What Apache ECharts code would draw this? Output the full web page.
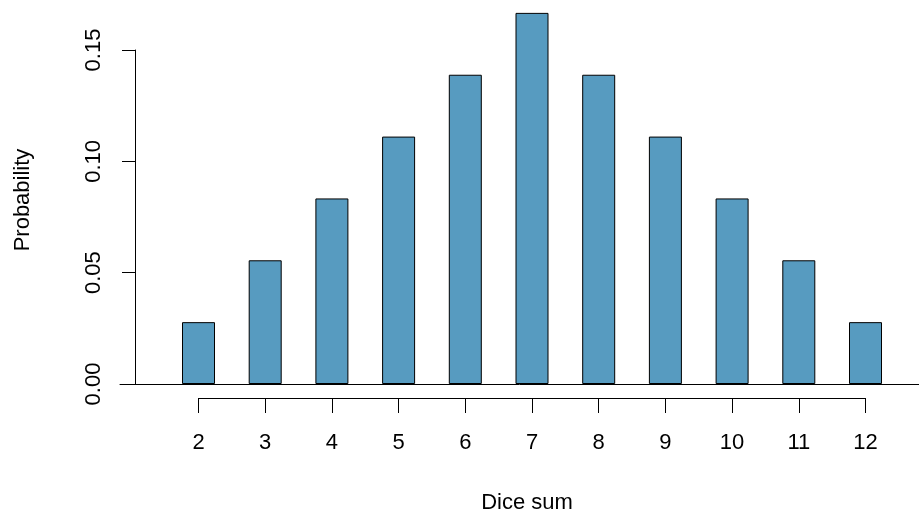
<!DOCTYPE html>
<html><head><meta charset="utf-8">
<script src="https://cdn.jsdelivr.net/npm/echarts@6/dist/echarts.min.js"></script>
<style>html,body{margin:0;padding:0;background:#fff}#c{width:919px;height:516px}</style>
</head><body><div id="c"></div>
<script>
const sums = [2, 3, 4, 5, 6, 7, 8, 9, 10, 11, 12];
const probs = [1/36, 2/36, 3/36, 4/36, 5/36, 6/36, 5/36, 4/36, 3/36, 2/36, 1/36];
const yTicks = [0, 0.05, 0.10, 0.15];
const xLabel = 'Dice sum';
const yLabel = 'Probability';

const font = 'Liberation Sans, Arial, Helvetica, sans-serif';
const fs = 22;
const chart = echarts.init(document.getElementById('c'));
const ymax = 384 / 2226.7;
chart.setOption({
  animation: false,
  grid: [
    {left: 120, right: 0, top: 0, bottom: 132},
    {left: 135, width: 10, top: 50, bottom: 132},
    {left: 198.5, right: 53.5, top: 397, height: 1}
  ],
  xAxis: [
    {gridIndex: 0, type: 'value', min: 2 - 78.5/66.7, max: 12 + 53.5/66.7,
     axisLine: {show: true, lineStyle: {color: '#000', width: 1}}, axisTick: {show: false},
     axisLabel: {show: false}, splitLine: {show: false}},
    {gridIndex: 1, type: 'value', show: false},
    {gridIndex: 2, type: 'value', min: 2, max: 12, interval: 1, position: 'bottom',
     axisLine: {show: true, lineStyle: {color: '#000', width: 1}},
     axisTick: {show: true, length: 15, lineStyle: {color: '#000'}},
     axisLabel: {show: true, color: '#000', fontSize: fs, fontFamily: font, margin: 34,
       formatter: v => sums.includes(v) ? String(v) : ''},
     splitLine: {show: false}}
  ],
  yAxis: [
    {gridIndex: 0, type: 'value', min: 0, max: ymax, show: false, splitLine: {show: false}},
    {gridIndex: 1, type: 'value', min: 0, max: 0.15, interval: 0.05, position: 'left',
     axisLine: {show: true, lineStyle: {color: '#000', width: 1}},
     axisTick: {show: true, length: 13, lineStyle: {color: '#000'}},
     axisLabel: {show: true, color: '#000', fontSize: fs, fontFamily: font, rotate: 90, margin: 30,
       formatter: v => { const t = yTicks.find(t => Math.abs(t - v) < 1e-9); return t === undefined ? '' : t.toFixed(2); }},
     splitLine: {show: false}},
    {gridIndex: 2, type: 'value', show: false}
  ],
  series: [{
    type: 'bar', xAxisIndex: 0, yAxisIndex: 0,
    data: sums.map((s, i) => [s, probs[i]]),
    barWidth: 33,
    itemStyle: {color: '#579bc0', borderColor: '#000', borderWidth: 1}
  }],
  graphic: [
    {type: 'text', x: 527, y: 503, style: {text: xLabel, font: fs + 'px ' + font, fill: '#000', align: 'center', verticalAlign: 'middle'}},
    {type: 'text', rotation: Math.PI/2, x: 23, y: 200, style: {text: yLabel, font: fs + 'px ' + font, fill: '#000', align: 'center', verticalAlign: 'middle'}}
  ]
});
</script></body></html>
